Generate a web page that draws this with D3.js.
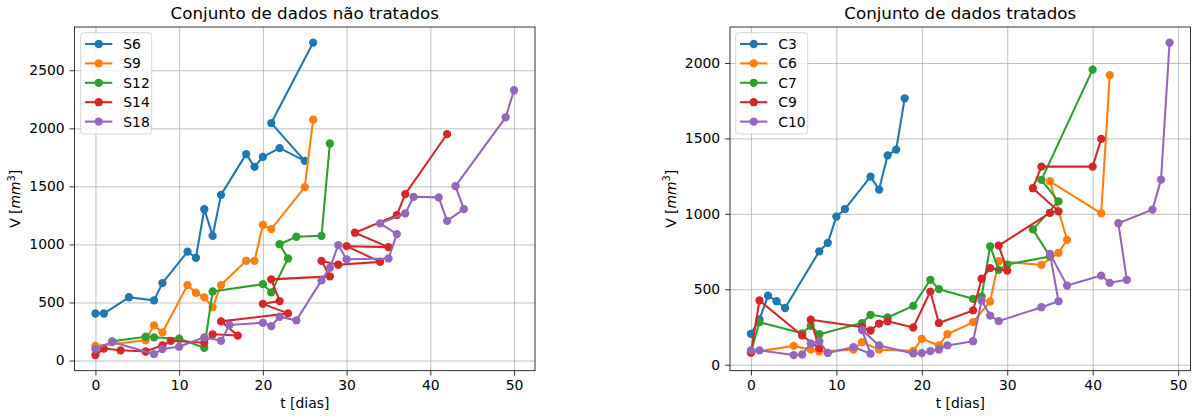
<!DOCTYPE html>
<html>
<head>
<meta charset="utf-8">
<script src="https://cdn.jsdelivr.net/npm/d3@7"></script>
<style>
  body { margin: 0; background: #fff; }
  svg { display: block; }
  text { font-family: "DejaVu Sans", sans-serif; fill: #000; }
</style>
</head>
<body>
<svg id="fig" width="1194" height="417"></svg>
<script>
// ---- Untreated samples: day of measurement and tumour volume (mm^3) ----
const untreatedNames = ["S6", "S9", "S12", "S14", "S18"];
const s6Days  = [0, 1, 4, 7, 8, 11, 12, 13, 14, 15, 18, 19, 20, 22, 25, 21, 26];
const s6Vol   = [405, 405, 545, 518, 667, 938, 885, 1303, 1074, 1427, 1778, 1668, 1754, 1829, 1720, 2045, 2738];
const s9Days  = [0, 6, 7, 8, 11, 12, 13, 14, 15, 18, 19, 20, 21, 25, 26];
const s9Vol   = [125, 175, 303, 242, 650, 584, 544, 458, 650, 859, 859, 1169, 1132, 1493, 2075];
const s12Days = [2, 6, 7, 10, 13, 14, 20, 21, 23, 22, 24, 27, 28];
const s12Vol  = [165, 205, 200, 188, 110, 595, 658, 587, 879, 1002, 1066, 1074, 1869];
const s14Days = [0, 1, 3, 6, 8, 9, 13, 14, 17, 15, 23, 20, 22, 21, 28, 27, 29, 34, 30, 35, 31, 36, 37, 42];
const s14Vol  = [47, 103, 88, 78, 131, 170, 153, 226, 215, 337, 406, 488, 512, 699, 725, 858, 825, 850, 985, 977, 1101, 1252, 1433, 1950];
const s18Days = [0, 2, 7, 8, 10, 13, 15, 16, 20, 21, 22, 24, 27, 28, 29, 30, 35, 36, 34, 37, 38, 41, 42, 44, 43, 49, 50];
const s18Vol  = [99, 159, 56, 99, 119, 200, 170, 306, 325, 297, 377, 346, 690, 799, 994, 872, 879, 1089, 1181, 1267, 1410, 1405, 1203, 1304, 1502, 2095, 2328];

// ---- Treated samples ----
const treatedNames = ["C3", "C6", "C7", "C9", "C10"];
const c3Days  = [0, 1, 2, 3, 4, 8, 9, 10, 11, 14, 15, 16, 17, 18];
const c3Vol   = [205, 300, 458, 421, 376, 752, 808, 982, 1031, 1247, 1161, 1388, 1426, 1766];
const c6Days  = [0, 5, 7, 8, 12, 13, 15, 19, 20, 22, 23, 26, 28, 29, 34, 36, 37, 35, 41, 42];
const c6Vol   = [80, 125, 100, 88, 100, 150, 100, 92, 172, 128, 203, 282, 419, 686, 662, 742, 828, 1216, 1004, 1920];
const c7Days  = [0, 1, 6, 7, 8, 13, 14, 16, 19, 21, 22, 26, 27, 28, 29, 30, 35, 33, 36, 34, 40];
const c7Vol   = [85, 282, 208, 258, 202, 276, 331, 313, 390, 563, 501, 437, 452, 785, 629, 664, 718, 897, 1083, 1225, 1956];
const c9Days  = [0, 1, 6, 8, 7, 13, 14, 15, 16, 19, 21, 22, 26, 27, 28, 30, 29, 35, 36, 33, 34, 40, 41];
const c9Vol   = [80, 426, 194, 108, 298, 250, 227, 273, 288, 247, 485, 277, 360, 570, 640, 624, 790, 1007, 1017, 1170, 1313, 1313, 1497];
const c10Days = [0, 1, 5, 6, 7, 8, 9, 12, 14, 13, 15, 19, 20, 21, 22, 23, 26, 27, 28, 29, 34, 36, 35, 37, 41, 42, 44, 43, 47, 48, 49];
const c10Vol  = [95, 95, 64, 68, 141, 154, 78, 117, 73, 230, 128, 75, 77, 90, 101, 128, 156, 426, 326, 289, 381, 421, 735, 525, 591, 543, 563, 938, 1028, 1227, 2135];

// ---- Tick values ----
const xTicks = [0, 10, 20, 30, 40, 50];
const yTicksUntreated = [0, 500, 1000, 1500, 2000, 2500];
const yTicksTreated = [0, 500, 1000, 1500, 2000];

const palette = ["#1f77b4", "#ff7f0e", "#2ca02c", "#d62728", "#9467bd"];

const panels = [
  {
    title: "Conjunto de dados não tratados",
    names: untreatedNames,
    days: [s6Days, s9Days, s12Days, s14Days, s18Days],
    vols: [s6Vol, s9Vol, s12Vol, s14Vol, s18Vol],
    yTicks: yTicksUntreated,
    box: { left: 74.5, right: 535, top: 27, bottom: 370.7 },
    legendW: 71
  },
  {
    title: "Conjunto de dados tratados",
    names: treatedNames,
    days: [c3Days, c6Days, c7Days, c9Days, c10Days],
    vols: [c3Vol, c6Vol, c7Vol, c9Vol, c10Vol],
    yTicks: yTicksTreated,
    box: { left: 730, right: 1190.5, top: 27, bottom: 370.7 },
    legendW: 72
  }
];

const svg = d3.select("#fig");
const FS = 13.9;          // tick / legend / label font size (10 pt)
const TICK = 4.9;         // tick length
const LW = 2.08;          // line width
const MR = 4.15;          // marker radius

// pad a [min,max] extent by 5% on each side
function padded(ext) {
  const m = (ext[1] - ext[0]) * 0.05;
  return [ext[0] - m, ext[1] + m];
}

panels.forEach((p, pi) => {
  const b = p.box;
  const W = b.right - b.left, H = b.bottom - b.top;
  const allX = p.days.flat(), allY = p.vols.flat();
  const x = d3.scaleLinear().domain(padded(d3.extent(allX))).range([0, W]);
  const y = d3.scaleLinear().domain(padded(d3.extent(allY))).range([H, 0]);

  const g = svg.append("g").attr("transform", `translate(${b.left},${b.top})`);

  const clipId = "clip" + pi;
  g.append("clipPath").attr("id", clipId)
    .append("rect").attr("x", 0).attr("y", 0).attr("width", W).attr("height", H);

  // grid
  const gx = g.append("g").attr("transform", `translate(0,${H})`)
    .call(d3.axisBottom(x).tickValues(xTicks.filter(t => t >= x.domain()[0] && t <= x.domain()[1])).tickSize(-H).tickFormat(""));
  const gy = g.append("g")
    .call(d3.axisLeft(y).tickValues(p.yTicks).tickSize(-W).tickFormat(""));
  [gx, gy].forEach(a => {
    a.select(".domain").remove();
    a.selectAll("line").attr("stroke", "#b0b0b0").attr("stroke-width", 0.8);
  });

  // series: line then markers, series after series
  const line = d3.line().x(d => x(d[0])).y(d => y(d[1]));
  const plot = g.append("g").attr("clip-path", `url(#${clipId})`);
  p.names.forEach((name, i) => {
    const pts = p.days[i].map((d, k) => [d, p.vols[i][k]]);
    const sg = plot.append("g");
    sg.append("path").datum(pts).attr("d", line)
      .attr("fill", "none").attr("stroke", palette[i])
      .attr("stroke-width", LW).attr("stroke-linejoin", "round").attr("stroke-linecap", "square");
    sg.selectAll("circle").data(pts).join("circle")
      .attr("cx", d => x(d[0])).attr("cy", d => y(d[1])).attr("r", MR)
      .attr("fill", palette[i]);
  });

  // spines
  g.append("rect").attr("width", W).attr("height", H)
    .attr("fill", "none").attr("stroke", "#000").attr("stroke-width", 0.8);

  // axes
  const ax = g.append("g").attr("transform", `translate(0,${H})`)
    .call(d3.axisBottom(x).tickValues(xTicks.filter(t => t >= x.domain()[0] && t <= x.domain()[1]))
      .tickSize(TICK).tickPadding(4.9).tickFormat(d3.format("d")));
  const ay = g.append("g")
    .call(d3.axisLeft(y).tickValues(p.yTicks).tickSize(TICK).tickPadding(4.9).tickFormat(d3.format("d")));
  [ax, ay].forEach(a => {
    a.select(".domain").remove();
    a.attr("font-family", null).attr("font-size", null);
    a.selectAll("line").attr("stroke", "#000").attr("stroke-width", 0.8);
    a.selectAll("text").attr("font-size", FS).attr("fill", "#000");
  });

  // title
  g.append("text").attr("x", W / 2).attr("y", -8.4)
    .attr("text-anchor", "middle").attr("font-size", 16.7).text(p.title);

  // x label
  g.append("text").attr("x", W / 2).attr("y", H + 37.5)
    .attr("text-anchor", "middle").attr("font-size", FS).text("t [dias]");

  // y label with mathtext-like "mm^3"
  const tickW = d3.max(ay.selectAll("text").nodes(), n => n.getComputedTextLength());
  const yl = g.append("text")
    .attr("transform", `translate(${-(TICK + 4.9 + tickW + 5.6 + 3.6)},${H / 2}) rotate(-90)`)
    .attr("text-anchor", "middle").attr("font-size", FS);
  yl.append("tspan").text("V [");
  yl.append("tspan").attr("font-style", "italic").text("mm");
  yl.append("tspan").attr("font-size", FS * 0.7).attr("dy", -5.5).text("3");
  yl.append("tspan").attr("dy", 5.5).text("]");

  // legend (upper left)
  const lg = g.append("g").attr("transform", `translate(${b.left < 100 ? 6.2 : 5.7},5.7)`);
  lg.append("rect").attr("width", p.legendW).attr("height", 101.3).attr("rx", 2.8)
    .attr("fill", "#fff").attr("fill-opacity", 0.8)
    .attr("stroke", "#cccccc").attr("stroke-width", 0.8);
  p.names.forEach((name, i) => {
    const yy = 11.3 + i * 19.4;
    lg.append("line").attr("x1", 4.3).attr("x2", 31.6).attr("y1", yy).attr("y2", yy)
      .attr("stroke", palette[i]).attr("stroke-width", LW);
    lg.append("circle").attr("cx", 18).attr("cy", yy).attr("r", MR).attr("fill", palette[i]);
    lg.append("text").attr("x", 42.6).attr("y", yy).attr("dy", "0.36em")
      .attr("font-size", FS).text(name);
  });
});
</script>
</body>
</html>
